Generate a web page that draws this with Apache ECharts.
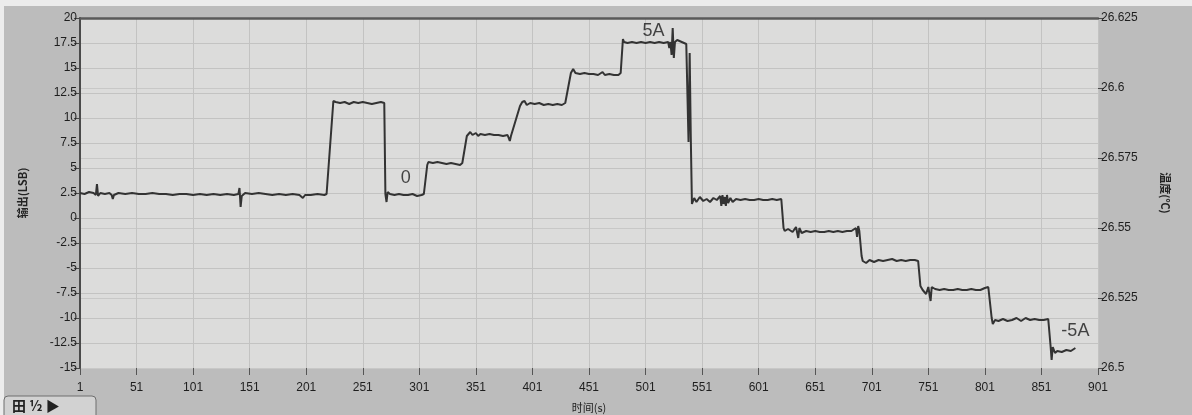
<!DOCTYPE html>
<html>
<head>
<meta charset="utf-8">
<script src="https://cdn.jsdelivr.net/npm/echarts/dist/echarts.min.js"></script>
<style>
  html, body { margin: 0; padding: 0; background: #bcbcbc; }
  #main { width: 1192px; height: 415px; }
</style>
</head>
<body>
<div id="main"></div>
<script>
// x values are sample index from 0, labels show index + 1
const xTicks = { min: 0, max: 900, step: 50 };
const leftTicks = { min: -15, max: 20, step: 2.5 };
const rightTicks = { min: 26.5, max: 26.625, step: 0.025 };

// output (LSB)
const outTime = [
  0, 4, 8, 12, 14, 15, 16, 18, 22, 26, 28, 29, 30, 34, 40, 46, 52, 58, 64, 70, 76, 82, 88, 94, 100,
  106, 112, 118, 124, 130, 136, 140, 141, 142, 143, 146, 152, 158, 164, 170, 176, 182, 188, 194, 197, 199,
  204, 210, 216, 218,
  224, 226, 230, 234, 238, 242, 246, 250, 254, 258, 262, 266, 269,
  270, 271, 272, 274, 278, 282, 286, 290, 294, 298, 302, 304,
  307, 308, 312, 316, 320, 324, 328, 332, 336, 338,
  342, 343, 345, 347, 350, 352, 354, 358, 362, 366, 370, 374, 378, 380, 381,
  389, 391, 393, 395, 398, 402, 406, 410, 414, 418, 422, 426, 429,
  434, 436, 438, 442, 446, 450, 454, 458, 462, 464, 468, 472, 476, 477, 478,
  480, 481, 484, 488, 492, 496, 500, 504, 508, 512, 516, 520, 521, 522, 523, 524, 525, 526, 528, 532, 536, 537,
  538, 539, 540, 541, 543, 545, 548, 551, 554, 557, 560, 563, 566, 567, 568, 569, 570, 571, 572, 573, 575,
  577, 580, 584, 588, 592, 596, 600, 604, 608, 612, 616, 620,
  622, 623, 626, 630, 633, 635, 636, 638, 642, 646, 650, 654, 658, 662, 666, 670, 674, 678, 682, 686, 687, 688, 689,
  691, 692, 695, 698, 702, 706, 710, 714, 718, 722, 726, 730, 734, 738, 741,
  743, 745, 748, 750, 752, 753, 756, 760, 764, 768, 772, 776, 780, 784, 788, 792, 796, 800, 803,
  806, 807, 809, 812, 816, 820, 824, 828, 832, 836, 840, 844, 848, 852, 856,
  858, 859, 860, 862, 864, 868, 872, 876, 880
];
const outValue = [
  2.5, 2.4, 2.6, 2.5, 2.3, 3.4, 2.2, 2.5, 2.4, 2.5, 2.3, 1.9, 2.3, 2.5, 2.4, 2.5, 2.4, 2.4, 2.5, 2.4, 2.4, 2.3, 2.4, 2.4, 2.3,
  2.4, 2.3, 2.4, 2.3, 2.4, 2.3, 2.4, 3.0, 1.1, 2.2, 2.5, 2.4, 2.5, 2.4, 2.3, 2.4, 2.3, 2.4, 2.3, 2.0, 2.3,
  2.3, 2.4, 2.3, 2.4,
  11.7, 11.6, 11.5, 11.6, 11.4, 11.6, 11.5, 11.6, 11.5, 11.4, 11.5, 11.6, 11.5,
  2.4, 1.6, 2.6, 2.4, 2.3, 2.4, 2.3, 2.3, 2.4, 2.2, 2.3, 2.4,
  5.3, 5.6, 5.5, 5.6, 5.5, 5.4, 5.5, 5.4, 5.3, 5.5,
  8.2, 8.4, 8.6, 8.3, 8.5, 8.2, 8.4, 8.3, 8.4, 8.3, 8.3, 8.2, 8.3, 7.7, 8.2,
  11.2, 11.6, 11.7, 11.3, 11.5, 11.4, 11.5, 11.3, 11.4, 11.3, 11.4, 11.3, 11.5,
  14.5, 14.9, 14.5, 14.4, 14.5, 14.4, 14.4, 14.3, 14.6, 14.3, 14.4, 14.3, 14.3, 14.1, 14.5,
  17.9, 17.6, 17.5, 17.6, 17.5, 17.6, 17.5, 17.6, 17.5, 17.6, 17.5, 17.6, 17.0, 17.6, 16.3, 19.0, 16.0, 17.6, 17.8, 17.6, 17.4, 17.3,
  7.6, 16.5, 8.0, 1.4, 2.0, 1.6, 2.1, 1.7, 1.9, 1.6, 2.0, 1.8, 2.2, 1.2, 2.3, 1.4, 2.1, 1.2, 2.3, 1.5, 2.0,
  1.6, 1.9, 1.8, 1.9, 1.8, 1.8, 1.9, 1.8, 1.8, 1.9, 1.8, 1.9,
  -1.0, -1.3, -1.1, -1.4, -0.9, -2.0, -1.0, -1.5, -1.3, -1.4, -1.3, -1.4, -1.4, -1.3, -1.4, -1.3, -1.4, -1.3, -1.3, -1.0, -1.9, -0.8, -1.3,
  -3.8, -4.3, -4.5, -4.2, -4.4, -4.2, -4.3, -4.2, -4.1, -4.3, -4.2, -4.3, -4.2, -4.2, -4.3,
  -6.8, -7.2, -7.6, -6.9, -8.3, -6.9, -7.1, -7.2, -7.1, -7.2, -7.2, -7.1, -7.2, -7.2, -7.1, -7.2, -7.2, -7.0, -6.9,
  -10.0, -10.6, -10.2, -10.3, -10.1, -10.3, -10.2, -10.0, -10.3, -10.0, -10.2, -10.1, -10.2, -10.2, -10.1,
  -12.7, -14.2, -12.9, -13.5, -13.3, -13.4, -13.2, -13.3, -13.0
];

// hand-written notes on the plot
const noteText = ['0', '5A', '-5A'];
const noteTime = [288, 507, 880];
const noteValue = [4.0, 18.7, -11.3];

const chart = echarts.init(document.getElementById('main'));

const labelStyle = {
  color: '#1e1e1e',
  fontSize: 12,
  fontFamily: 'Liberation Sans, Arial, sans-serif'
};

const option = {
  backgroundColor: '#bcbcbc',
  animation: false,
  graphic: [
    { type: 'rect', shape: { x: 0, y: 0, width: 1192, height: 6 }, style: { fill: '#ececec' } },
    { type: 'rect', shape: { x: 0, y: 0, width: 4, height: 415 }, style: { fill: '#ececec' } },
    {
      type: 'rect',
      shape: { x: 4, y: 396, width: 92, height: 26, r: 4 },
      style: { fill: '#d2d2d2', stroke: '#6e6e6e', lineWidth: 1 }
    },
    {
      type: 'text',
      left: 12, top: 399,
      style: { text: '田 ½ ▶', fill: '#222', fontSize: 14, fontWeight: 'bold', fontFamily: 'Noto Sans CJK SC' }
    }
  ],
  grid: {
    left: 80,
    right: 94,
    top: 18,
    bottom: 47,
    outerBoundsMode: 'none',
    containLabel: false,
    show: true,
    backgroundColor: '#dcdcdb',
    borderWidth: 0
  },
  xAxis: [
    {
      type: 'value',
      min: xTicks.min,
      max: xTicks.max,
      interval: xTicks.step,
      name: '时间(s)',
      nameLocation: 'middle',
      nameGap: 34,
      nameTextStyle: { color: '#222', fontSize: 11, fontFamily: 'Noto Sans CJK SC' },
      axisLine: { show: false, onZero: false },
      axisTick: { show: true, length: 7, lineStyle: { color: '#555' } },
      axisLabel: Object.assign({ margin: 14, formatter: v => String(v + 1) }, labelStyle),
      splitLine: { show: true, lineStyle: { color: '#c3c3c2', width: 1 } }
    },
    {
      type: 'value',
      position: 'top',
      min: xTicks.min,
      max: xTicks.max,
      axisLine: { show: true, onZero: false, lineStyle: { color: '#5a5a5a', width: 2.5 } },
      axisTick: { show: false },
      axisLabel: { show: false },
      splitLine: { show: false }
    }
  ],
  yAxis: [
    {
      type: 'value',
      min: leftTicks.min,
      max: leftTicks.max,
      interval: leftTicks.step,
      name: '输出(LSB)',
      nameLocation: 'middle',
      nameGap: 52,
      nameTextStyle: { color: '#222', fontSize: 11, fontWeight: 'bold', fontFamily: 'Noto Sans CJK SC' },
      axisLine: { show: true, onZero: false, lineStyle: { color: '#4a4a4a', width: 2 } },
      axisTick: { show: true, length: 6, lineStyle: { color: '#4a4a4a' } },
      axisLabel: Object.assign({ margin: 3 }, labelStyle),
      splitLine: { show: true, lineStyle: { color: '#c3c3c2', width: 1 } }
    },
    {
      type: 'value',
      min: rightTicks.min,
      max: rightTicks.max,
      interval: rightTicks.step,
      position: 'right',
      name: '温度(℃)',
      nameLocation: 'middle',
      nameRotate: -90,
      nameGap: 62,
      nameTextStyle: { color: '#222', fontSize: 11, fontWeight: 'bold', fontFamily: 'Noto Sans CJK SC' },
      axisLine: { show: false, onZero: false },
      axisTick: { show: true, length: 6, lineStyle: { color: '#4a4a4a' } },
      axisLabel: Object.assign({ margin: 3, formatter: v => String(+v.toFixed(3)) }, labelStyle),
      splitLine: { show: true, lineStyle: { color: '#c8c8c7', width: 1 } }
    }
  ],
  series: [
    {
      name: '输出',
      type: 'line',
      xAxisIndex: 0,
      yAxisIndex: 0,
      showSymbol: false,
      symbol: 'none',
      lineStyle: { color: '#333333', width: 2 },
      data: outTime.map((t, i) => [t, outValue[i]])
    },
    {
      type: 'scatter',
      symbolSize: 1,
      itemStyle: { color: 'transparent' },
      label: {
        show: true,
        position: 'inside',
        formatter: p => p.name,
        color: '#1a1a1a',
        fontSize: 18,
        fontFamily: 'Liberation Sans, Arial, sans-serif'
      },
      data: noteText.map((s, i) => ({ name: s, value: [noteTime[i], noteValue[i]] }))
    }
  ]
};

chart.setOption(option);
</script>
</body>
</html>
